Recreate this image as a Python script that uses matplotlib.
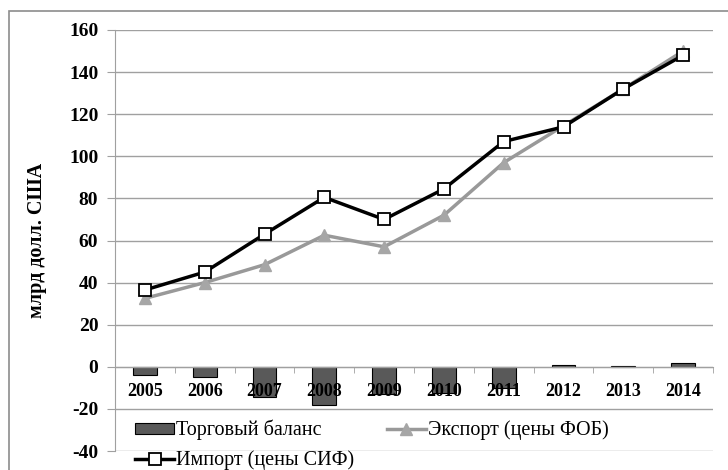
import matplotlib
matplotlib.use('Agg')
import matplotlib.pyplot as plt
from matplotlib.patches import Rectangle
import numpy as np

years = ['2005', '2006', '2007', '2008', '2009', '2010', '2011', '2012', '2013', '2014']
balance = [-4, -5, -14.5, -18, -13, -12.5, -10, 0.7, 0.4, 1.8]
export_fob = [32.5, 40, 48.5, 62.5, 57, 72, 97, 114.5, 132, 150]
import_cif = [36.5, 45, 63, 80.5, 70, 84.5, 107, 114, 132, 148]

plt.rcParams['font.family'] = ['Liberation Serif', 'DejaVu Serif']
plt.rcParams['axes.unicode_minus'] = False

fig = plt.figure(figsize=(7.28, 4.70), dpi=100)
fig.patch.set_facecolor('white')
ax = fig.add_axes([115/728, 1 - 451/470, 598/728, 421/470])

x = np.arange(len(years))
ax.bar(x, balance, width=0.4, color='#595959', edgecolor='black', linewidth=0.8,
       zorder=2, label='Торговый баланс')
ax.plot(x, export_fob, color='#999999', lw=2.5, marker='^', ms=8,
        mfc='#a6a6a6', mec='#a6a6a6', zorder=3, label='Экспорт (цены ФОБ)')
ax.plot(x, import_cif, color='black', lw=2.5, marker='s', ms=9,
        mfc='white', mec='black', mew=1.3, zorder=4, label='Импорт (цены СИФ)')

ax.set_xlim(-0.5, len(years) - 0.5)
ax.set_ylim(-40, 160)
ax.set_yticks(range(-40, 161, 20))
ax.yaxis.grid(True, color='#a0a0a0', lw=1)
# axis (and year labels) above the bars, below the lines
ax.set_axisbelow(False)

ax.spines[['top', 'right']].set_visible(False)
ax.spines['left'].set_color('#a0a0a0')
ax.spines['bottom'].set_color('#a0a0a0')
ax.spines['bottom'].set_position(('data', 0))

ax.set_xticks(x)
ax.set_xticklabels(years)
ax.set_xticks(np.arange(-0.5, len(years), 1), minor=True)
ax.tick_params(axis='x', which='major', length=0, pad=12, labelsize=13)
ax.tick_params(axis='x', which='minor', length=4, color='#a0a0a0')
ax.tick_params(axis='y', length=6, color='#a0a0a0', labelsize=14, pad=6)
for lab in ax.get_xticklabels() + ax.get_yticklabels():
    lab.set_fontweight('bold')

ax.set_ylabel('млрд долл. США', fontsize=14.5, fontweight='bold', labelpad=16)

h, l = ax.get_legend_handles_labels()
# lines come first, bars last; want row 1: balance, export; row 2: import
order = [2, 1, 0]
ax.legend([h[i] for i in order], [l[i] for i in order], ncol=2, frameon=False,
          loc='upper left', bbox_to_anchor=(135/728, 1 - 420/470),
          bbox_transform=fig.transFigure, fontsize=14.5,
          handlelength=1.95, handleheight=0.45, handletextpad=0.1,
          columnspacing=1.6, labelspacing=0.5, borderaxespad=0, borderpad=0)

fig.add_artist(Rectangle((9/728, -0.1), 1.1, 1.1 - 11/470, transform=fig.transFigure,
                         fill=False, edgecolor='#8c8c8c', lw=1.2))

fig.savefig('out.png', dpi=100)
